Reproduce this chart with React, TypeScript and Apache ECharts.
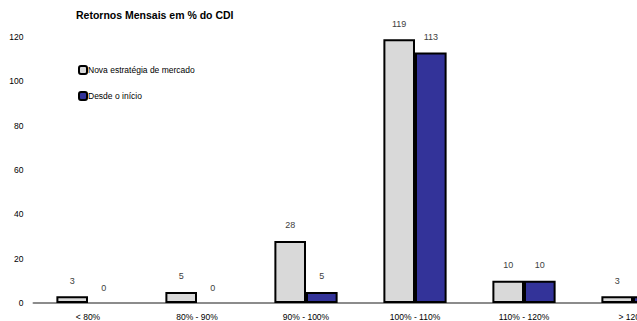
import React, { useEffect, useRef } from "react";
import * as echarts from "echarts";

const categories = ["< 80%", "80% - 90%", "90% - 100%", "100% - 110%", "110% - 120%", "> 120%"];
const novaEstrategia = [3, 5, 28, 119, 10, 3];
const desdeInicio = [0, 0, 5, 113, 10, 3];
const seriesNames = ["Nova estratégia de mercado", "Desde o início"];
const yTicks = { min: 0, max: 120, interval: 20 };
const titleText = "Retornos Mensais em % do CDI";

const FONT = "'Liberation Sans', Arial, sans-serif";

function toItems(values: number[]) {
  return values.map((v) => (v === 0 ? { value: v, itemStyle: { borderWidth: 0 } } : v));
}

export default function App() {
  const ref = useRef<HTMLDivElement>(null);
  useEffect(() => {
    if (!ref.current) return;
    const chart = echarts.init(ref.current, undefined, { renderer: "svg" });
    const label = {
      show: true,
      position: "top" as const,
      distance: 11,
      color: "#404040",
      fontSize: 9,
      fontFamily: FONT,
    };
    chart.setOption({
      animation: false,
      backgroundColor: "#ffffff",
      title: {
        text: titleText,
        left: 76,
        top: 9,
        padding: 0,
        textStyle: { fontSize: 10.5, fontWeight: "bold", color: "#000", fontFamily: FONT },
      },
      legend: {
        orient: "vertical",
        left: 78,
        top: 65,
        padding: 0,
        itemWidth: 8,
        itemHeight: 8,
        itemGap: 16,
        inactiveColor: "#000",
        textStyle: { fontSize: 8.5, color: "#000", fontFamily: FONT, padding: [0, 0, 0, -4] },
        data: seriesNames,
      },
      grid: { left: 33.5, top: 37, bottom: 18, width: 654, containLabel: false },
      xAxis: {
        type: "category",
        data: categories,
        axisLine: { lineStyle: { color: "#8c8c8c", width: 2 } },
        axisTick: { show: false },
        axisLabel: { color: "#000", fontSize: 8.5, margin: 9, fontFamily: FONT, interval: 0 },
      },
      yAxis: {
        type: "value",
        min: yTicks.min,
        max: yTicks.max,
        interval: yTicks.interval,
        axisLine: { show: false },
        axisTick: { show: false },
        splitLine: { show: false },
        axisLabel: { color: "#000", fontSize: 8.5, margin: 10, fontFamily: FONT },
      },
      series: [
        {
          name: seriesNames[0],
          type: "bar",
          data: toItems(novaEstrategia),
          barGap: "0%",
          barCategoryGap: "42%",
          itemStyle: { color: "#d9d9d9", borderColor: "#000", borderWidth: 2 },
          label,
        },
        {
          name: seriesNames[1],
          type: "bar",
          data: toItems(desdeInicio),
          barGap: "0%",
          barCategoryGap: "42%",
          itemStyle: { color: "#333399", borderColor: "#000", borderWidth: 2 },
          label,
        },
      ],
    });
    return () => chart.dispose();
  }, []);
  return (
    <div style={{ position: "fixed", left: 0, top: 0, width: 637, height: 321, overflow: "hidden", background: "#fff" }}>
      <div ref={ref} style={{ width: 720, height: 321 }} />
    </div>
  );
}
